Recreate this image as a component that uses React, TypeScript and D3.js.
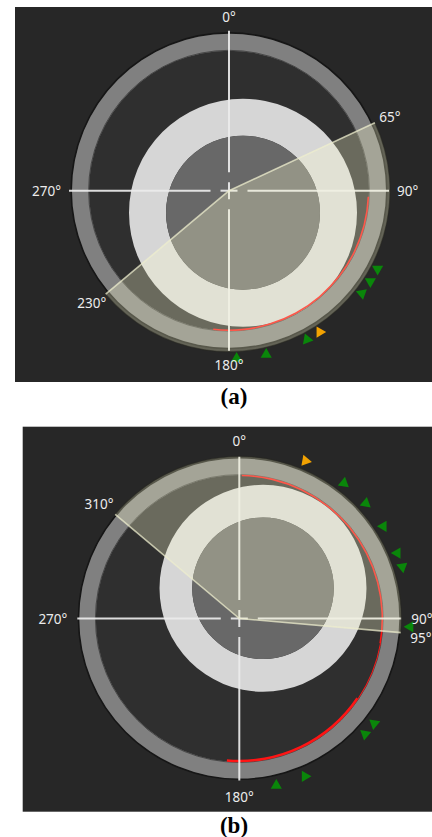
import React from "react";
import * as d3 from "d3";

// Compass angles in degrees: 0 at the top, increasing clockwise.
const axisAngles = [0, 90, 180, 270];
const axisLabels = ["0°", "90°", "180°", "270°"];

// Panel (a)
const sectorA = [65, 230];
const sectorLabelsA = ["65°", "230°"];
const wearStartA = [92.5];
const wearEndA = [186.5];
const wearWidthA = [1.6];
const sensorAnglesA = [117.8, 122.7, 127.7, 147.3, 152.3, 167.2, 177.4];
const sensorHeadingsA = [180, 180, 170, 90, 100, 0, 0];
const sensorFlagsA = [0, 0, 0, 1, 0, 0, 0];

// Panel (b)
const sectorB = [310, 95];
const sectorLabelsB = ["310°", "95°"];
const wearStartB = [1, 100, 124];
const wearEndB = [100, 124, 185];
const wearWidthB = [1.6, 0.9, 2.6];
const sensorAnglesB = [22.8, 37.7, 47.7, 57.4, 67.5, 72.4, 92.8, 127.9, 132.6, 157.4, 167.5];
const sensorHeadingsB = [100, 250, 250, 270, 270, 290, 270, 190, 190, 90, 0];
const sensorFlagsB = [1, 0, 0, 0, 0, 0, 0, 0, 0, 0, 0];

const layoutA = {
  x0: 15, y0: 7, x1: 432, y1: 382,
  cx: 229, cy: 190.7, R: 157, ring: 17, sectorR: 161, crossR: 160,
  boreDx: 14, boreDy: 22, boreR: 114, coreR: 77,
  caption: "(a)", capX: 234, capY: 404, labelPad: 11,
};
const layoutB = {
  x0: 22.7, y0: 426.7, x1: 432, y1: 811.7,
  cx: 239.3, cy: 618.5, R: 160, ring: 16.5, sectorR: 162, crossR: 162,
  boreDx: 23.7, boreDy: -30.2, boreR: 103.5, coreR: 70.8,
  caption: "(b)", capX: 234, capY: 833, labelPad: 12,
};

const toRad = d3.scaleLinear().domain([0, 360]).range([0, 2 * Math.PI]);
const polar = (deg: number, r: number): [number, number] => {
  const a = toRad(deg);
  return [r * Math.sin(a), -r * Math.cos(a)];
};

const FONT = "'Noto Sans', 'Open Sans', sans-serif";
const LABEL_COLOR = "#ececec";

function AngleLabel({ deg, r, text, shift = 0 }: { deg: number; r: number; text: string; shift?: number }) {
  const a = toRad(deg);
  const hw = (text.length - 1) * 3.85 + 2.9;
  const hh = 6;
  // shift moves the label along the clockwise tangent
  const x = (r + hw * Math.abs(Math.sin(a))) * Math.sin(a) + shift * Math.cos(a);
  const y = -r * Math.cos(a) - hh * Math.cos(a) + shift * Math.sin(a);
  return (
    <text
      x={x}
      y={y}
      textAnchor="middle"
      dominantBaseline="central"
      fontFamily={FONT}
      fontSize={13.5}
      fill={LABEL_COLOR}
    >
      {text}
    </text>
  );
}

function Panel(props: any) {
  const { L, sector, sectorLabels, wearStart, wearEnd, wearWidth, sensorAngles, sensorHeadings, sensorFlags } = props;
  const arc = d3.arc<any>();
  const full = (inner: number, outer: number) =>
    arc({ innerRadius: inner, outerRadius: outer, startAngle: 0, endAngle: 2 * Math.PI }) as string;

  const s0 = sector[0];
  const s1 = sector[1] < sector[0] ? sector[1] + 360 : sector[1];
  const sectorPath = arc({
    innerRadius: 0,
    outerRadius: L.sectorR,
    startAngle: toRad(s0),
    endAngle: toRad(s1),
  }) as string;
  const rimPath = d3.arc<any>()({
    innerRadius: L.sectorR,
    outerRadius: L.sectorR,
    startAngle: toRad(s0),
    endAngle: toRad(s1),
  }) as string;

  const rInner = L.R - L.ring;
  const tri = d3.symbol().type(d3.symbolTriangle).size(54)() as string;
  const labelR = L.R + L.labelPad;

  // keep a sector label clear of a nearby axis label
  const sectorShift = (deg: number) => {
    let best = 0;
    axisAngles.forEach((a) => {
      let d = ((deg - a + 540) % 360) - 180;
      if (Math.abs(d) < 12) best = d >= 0 ? 3.5 : -3.5;
    });
    return best;
  };

  return (
    <g>
      <rect x={L.x0} y={L.y0} width={L.x1 - L.x0} height={L.y1 - L.y0} fill="#272727" />
      <g transform={`translate(${L.cx},${L.cy})`}>
        {/* disc inside the housing ring */}
        <circle r={rInner} fill="#2f2f2f" />
        {/* housing ring */}
        <circle r={L.R + 0.8} fill="none" stroke="#161616" strokeWidth={1.6} />
        <path d={full(rInner, L.R)} fill="#808080" />
        <circle r={rInner + 0.4} fill="none" stroke="#3a3a3a" strokeWidth={0.8} />

        {/* eccentric bore */}
        <g transform={`translate(${L.boreDx},${L.boreDy})`}>
          <path d={full(L.coreR, L.boreR)} fill="#d6d6d6" />
          <circle r={L.coreR} fill="#686868" />
        </g>

        {/* wear trace */}
        {wearStart.map((w: number, i: number) => (
          <path
            key={`w${i}`}
            d={
              d3.arc<any>()({
                innerRadius: rInner - wearWidth[i] + 0.3,
                outerRadius: rInner + 0.3,
                startAngle: toRad(w),
                endAngle: toRad(wearEnd[i]),
              }) as string
            }
            fill="#ff1414"
          />
        ))}

        {/* crosshair */}
        {axisAngles.map((a, i) => {
          const [xa, ya] = polar(a, 18.5);
          const [xb, yb] = polar(a, L.crossR);
          const [xc, yc] = polar(a, 8.5);
          return (
            <g key={`c${i}`} stroke="rgba(236,236,236,0.92)" strokeWidth={2}>
              <line x1={xa} y1={ya} x2={xb} y2={yb} />
              <line x1={0} y1={0} x2={xc} y2={yc} />
            </g>
          );
        })}

        {/* highlighted sector */}
        <path d={sectorPath} fill="rgb(250,250,206)" fillOpacity={0.29} />
        <path d={rimPath} fill="none" stroke="rgba(40,40,32,0.55)" strokeWidth={1.2} />
        {[s0, s1].map((a, i) => {
          const [x, y] = polar(a, L.sectorR);
          return (
            <line key={`e${i}`} x1={0} y1={0} x2={x} y2={y} stroke="rgba(238,238,205,0.75)" strokeWidth={1.6} />
          );
        })}

        {/* sensor markers */}
        {sensorAngles.map((a: number, i: number) => {
          const [x, y] = polar(a, L.R + 11);
          return (
            <path
              key={`s${i}`}
              d={tri}
              transform={`translate(${x},${y}) rotate(${sensorHeadings[i]})`}
              fill={sensorFlags[i] ? "#f2a202" : "#0a860a"}
            />
          );
        })}

        {/* angle labels */}
        {axisAngles.map((a, i) => (
          <AngleLabel key={`l${i}`} deg={a} r={labelR} text={axisLabels[i]} />
        ))}
        {sector.map((a: number, i: number) => (
          <AngleLabel key={`sl${i}`} deg={a} r={labelR} text={sectorLabels[i]} shift={sectorShift(a)} />
        ))}
      </g>
      <text
        x={L.capX}
        y={L.capY}
        textAnchor="middle"
        fontFamily="'Liberation Serif', 'Times New Roman', serif"
        fontWeight="bold"
        fontSize={23}
        fill="#000"
      >
        {L.caption}
      </text>
    </g>
  );
}

export default function App() {
  return (
    <div style={{ position: "absolute", left: 0, top: 0 }}>
      <svg width={432} height={837} style={{ display: "block", background: "#fff" }}>
        <Panel
          L={layoutA}
          sector={sectorA}
          sectorLabels={sectorLabelsA}
          wearStart={wearStartA}
          wearEnd={wearEndA}
          wearWidth={wearWidthA}
          sensorAngles={sensorAnglesA}
          sensorHeadings={sensorHeadingsA}
          sensorFlags={sensorFlagsA}
        />
        <Panel
          L={layoutB}
          sector={sectorB}
          sectorLabels={sectorLabelsB}
          wearStart={wearStartB}
          wearEnd={wearEndB}
          wearWidth={wearWidthB}
          sensorAngles={sensorAnglesB}
          sensorHeadings={sensorHeadingsB}
          sensorFlags={sensorFlagsB}
        />
      </svg>
    </div>
  );
}
